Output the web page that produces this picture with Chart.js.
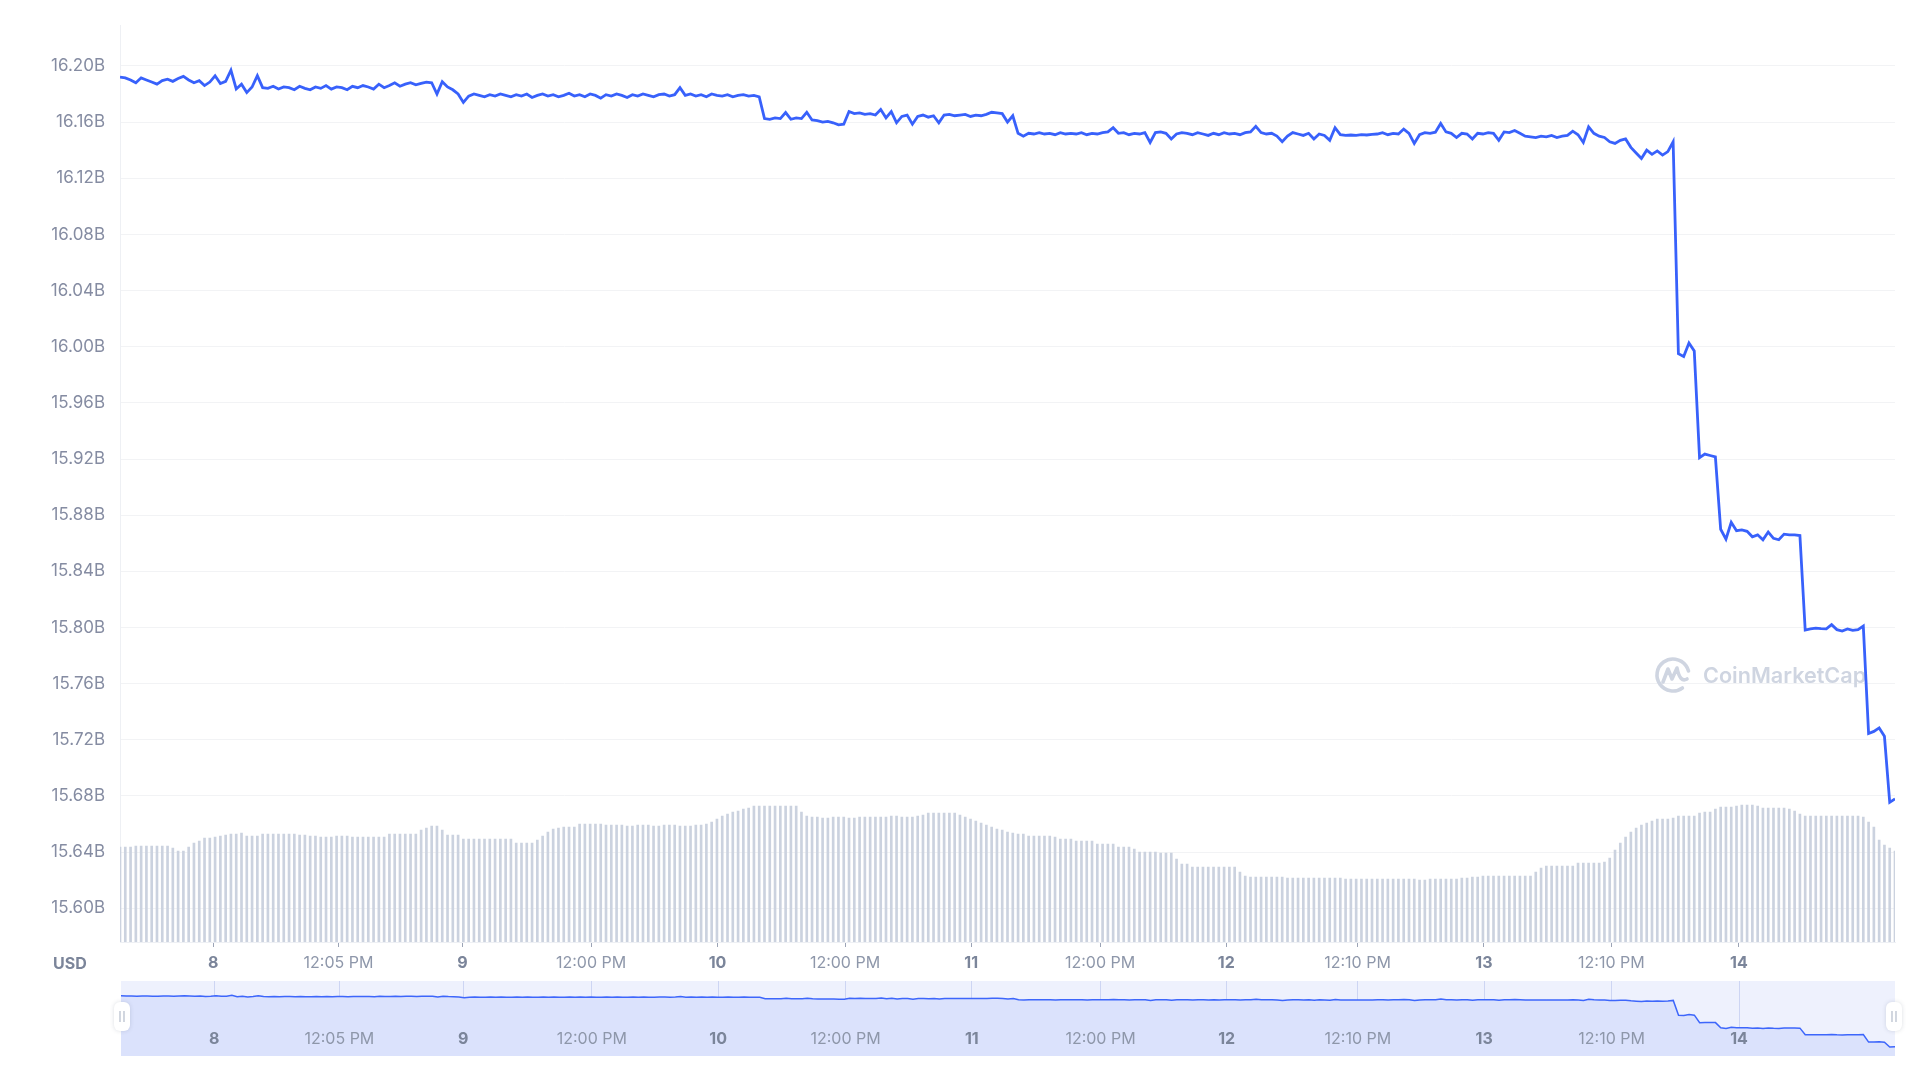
<!DOCTYPE html>
<html>
<head>
<meta charset="utf-8">
<script src="https://cdn.jsdelivr.net/npm/chart.js@4.4.0/dist/chart.umd.min.js"></script>
<style>
    html, body { margin: 0; padding: 0; background: #fff; }
    #wrap { position: relative; width: 1920px; height: 1080px; overflow: hidden; }
    #mainChart { position: absolute; left: 0; top: 0; }
    #navChart { position: absolute; left: 0; top: 981px; }
</style>
</head>
<body>
<div id="wrap">
    <canvas id="mainChart" width="1920" height="985"></canvas>
    <canvas id="navChart" width="1920" height="75"></canvas>
</div>
<script>
// market cap in billions USD, one sample every 30 minutes (7 days)
const marketCap = [
    16.1920, 16.1915, 16.1900, 16.1880, 16.1915, 16.1900, 16.1885, 16.1870, 16.1895, 16.1905, 16.1890, 16.1910,
    16.1925, 16.1900, 16.1880, 16.1895, 16.1860, 16.1885, 16.1930, 16.1875, 16.1890, 16.1970, 16.1836, 16.1870,
    16.1810, 16.1850, 16.1930, 16.1845, 16.1840, 16.1855, 16.1835, 16.1850, 16.1845, 16.1830, 16.1855, 16.1840,
    16.1830, 16.1850, 16.1840, 16.1860, 16.1835, 16.1850, 16.1845, 16.1830, 16.1855, 16.1845, 16.1860, 16.1850,
    16.1835, 16.1870, 16.1845, 16.1860, 16.1880, 16.1855, 16.1870, 16.1880, 16.1865, 16.1875, 16.1885, 16.1880,
    16.1800, 16.1888, 16.1850, 16.1830, 16.1800, 16.1740, 16.1785, 16.1800, 16.1790, 16.1780, 16.1795, 16.1785,
    16.1800, 16.1790, 16.1780, 16.1795, 16.1785, 16.1800, 16.1775, 16.1790, 16.1800, 16.1785, 16.1795, 16.1780,
    16.1790, 16.1805, 16.1785, 16.1795, 16.1780, 16.1800, 16.1790, 16.1770, 16.1795, 16.1785, 16.1800, 16.1790,
    16.1775, 16.1795, 16.1785, 16.1800, 16.1790, 16.1780, 16.1795, 16.1800, 16.1785, 16.1795, 16.1845, 16.1790,
    16.1800, 16.1785, 16.1795, 16.1780, 16.1800, 16.1790, 16.1785, 16.1795, 16.1780, 16.1790, 16.1795, 16.1785,
    16.1790, 16.1780, 16.1625, 16.1620, 16.1630, 16.1625, 16.1668, 16.1620, 16.1630, 16.1625, 16.1670, 16.1615,
    16.1610, 16.1600, 16.1605, 16.1595, 16.1580, 16.1585, 16.1675, 16.1660, 16.1665, 16.1655, 16.1660, 16.1650,
    16.1690, 16.1630, 16.1675, 16.1595, 16.1640, 16.1650, 16.1585, 16.1640, 16.1650, 16.1635, 16.1645, 16.1595,
    16.1650, 16.1655, 16.1645, 16.1650, 16.1655, 16.1640, 16.1650, 16.1645, 16.1655, 16.1670, 16.1665, 16.1660,
    16.1600, 16.1645, 16.1520, 16.1500, 16.1520, 16.1515, 16.1525, 16.1515, 16.1520, 16.1510, 16.1525, 16.1515,
    16.1520, 16.1515, 16.1525, 16.1510, 16.1520, 16.1515, 16.1525, 16.1530, 16.1560, 16.1520, 16.1525, 16.1510,
    16.1520, 16.1515, 16.1525, 16.1455, 16.1525, 16.1530, 16.1520, 16.1480, 16.1515, 16.1525, 16.1520, 16.1510,
    16.1525, 16.1515, 16.1505, 16.1520, 16.1510, 16.1525, 16.1515, 16.1520, 16.1510, 16.1525, 16.1530, 16.1570,
    16.1525, 16.1515, 16.1520, 16.1500, 16.1460, 16.1500, 16.1525, 16.1515, 16.1505, 16.1520, 16.1480, 16.1515,
    16.1505, 16.1470, 16.1560, 16.1510, 16.1505, 16.1508, 16.1505, 16.1510, 16.1508, 16.1512, 16.1515, 16.1525,
    16.1510, 16.1520, 16.1515, 16.1550, 16.1520, 16.1448, 16.1510, 16.1525, 16.1520, 16.1528, 16.1590, 16.1530,
    16.1520, 16.1490, 16.1520, 16.1515, 16.1480, 16.1520, 16.1515, 16.1525, 16.1520, 16.1470, 16.1530, 16.1525,
    16.1540, 16.1520, 16.1500, 16.1495, 16.1490, 16.1500, 16.1495, 16.1505, 16.1490, 16.1500, 16.1505, 16.1535,
    16.1510, 16.1455, 16.1566, 16.1520, 16.1500, 16.1490, 16.1460, 16.1448, 16.1470, 16.1480, 16.1420, 16.1380,
    16.1340, 16.1400, 16.1370, 16.1395, 16.1365, 16.1390, 16.1460, 15.9950, 15.9930, 16.0026, 15.9970, 15.9210,
    15.9235, 15.9225, 15.9215, 15.8700, 15.8630, 15.8750, 15.8690, 15.8695, 15.8685, 15.8646, 15.8660, 15.8625,
    15.8680, 15.8635, 15.8625, 15.8665, 15.8660, 15.8660, 15.8655, 15.7982, 15.7990, 15.7995, 15.7992, 15.7990,
    15.8020, 15.7985, 15.7975, 15.7990, 15.7980, 15.7985, 15.8010, 15.7245, 15.7260, 15.7285, 15.7225, 15.6755,
    15.6780
];

// volume, relative units, same 30 minute samples
const volume = [
    9.5, 9.5, 9.5, 9.6, 9.6, 9.6, 9.6, 9.6, 9.6, 9.6, 9.4, 9.1,
    9.1, 9.5, 9.9, 10.1, 10.4, 10.4, 10.5, 10.6, 10.7, 10.8, 10.8, 10.9,
    10.6, 10.6, 10.6, 10.8, 10.8, 10.8, 10.8, 10.8, 10.8, 10.8, 10.7, 10.7,
    10.6, 10.6, 10.5, 10.5, 10.5, 10.6, 10.6, 10.6, 10.5, 10.5, 10.5, 10.5,
    10.5, 10.5, 10.5, 10.8, 10.8, 10.8, 10.8, 10.8, 10.8, 11.2, 11.4, 11.6,
    11.6, 11.2, 10.7, 10.7, 10.7, 10.3, 10.3, 10.3, 10.3, 10.3, 10.3, 10.3,
    10.3, 10.3, 10.3, 9.9, 9.9, 9.9, 9.9, 10.2, 10.6, 11.0, 11.3, 11.4,
    11.5, 11.5, 11.5, 11.8, 11.8, 11.8, 11.8, 11.8, 11.7, 11.7, 11.7, 11.7,
    11.6, 11.6, 11.7, 11.7, 11.7, 11.6, 11.6, 11.7, 11.7, 11.7, 11.6, 11.6,
    11.6, 11.7, 11.7, 11.8, 12.0, 12.3, 12.6, 12.8, 13.0, 13.1, 13.3, 13.4,
    13.6, 13.6, 13.6, 13.6, 13.6, 13.6, 13.6, 13.6, 13.6, 13.0, 12.6, 12.5,
    12.5, 12.4, 12.4, 12.5, 12.5, 12.5, 12.4, 12.4, 12.5, 12.5, 12.5, 12.5,
    12.5, 12.5, 12.6, 12.6, 12.5, 12.5, 12.5, 12.6, 12.7, 12.9, 12.9, 12.9,
    12.9, 12.9, 12.9, 12.7, 12.5, 12.3, 12.1, 11.9, 11.7, 11.5, 11.3, 11.2,
    11.0, 10.9, 10.8, 10.8, 10.6, 10.6, 10.6, 10.6, 10.6, 10.5, 10.3, 10.3,
    10.3, 10.1, 10.1, 10.1, 10.1, 9.8, 9.8, 9.8, 9.8, 9.5, 9.5, 9.5,
    9.3, 9.0, 9.0, 9.0, 9.0, 8.9, 8.9, 8.9, 8.3, 7.8, 7.8, 7.5,
    7.5, 7.5, 7.5, 7.5, 7.5, 7.5, 7.5, 7.5, 7.0, 6.6, 6.5, 6.5,
    6.5, 6.5, 6.5, 6.5, 6.5, 6.4, 6.4, 6.4, 6.4, 6.4, 6.4, 6.4,
    6.4, 6.4, 6.4, 6.4, 6.3, 6.3, 6.3, 6.3, 6.3, 6.3, 6.3, 6.3,
    6.3, 6.3, 6.3, 6.3, 6.3, 6.3, 6.2, 6.2, 6.3, 6.3, 6.3, 6.3,
    6.3, 6.3, 6.4, 6.4, 6.5, 6.5, 6.6, 6.6, 6.6, 6.6, 6.6, 6.6,
    6.6, 6.6, 6.6, 6.6, 7.0, 7.4, 7.6, 7.6, 7.6, 7.6, 7.6, 7.6,
    7.9, 7.9, 7.9, 7.9, 7.9, 8.0, 8.4, 9.2, 9.9, 10.5, 11.0, 11.4,
    11.7, 11.9, 12.1, 12.3, 12.3, 12.3, 12.4, 12.6, 12.6, 12.6, 12.6, 12.9,
    13.0, 13.0, 13.3, 13.5, 13.5, 13.5, 13.6, 13.7, 13.7, 13.7, 13.6, 13.4,
    13.4, 13.4, 13.4, 13.4, 13.3, 13.1, 12.8, 12.6, 12.6, 12.6, 12.6, 12.6,
    12.6, 12.6, 12.6, 12.6, 12.6, 12.6, 12.5, 12.0, 11.5, 10.2, 9.7, 9.4,
    9.1
];

// hours since the first sample
const sampleHours = marketCap.map((_, i) => i * 0.5);

const tickHours = [8.83, 20.68, 32.41, 44.59, 56.55, 68.62, 80.57, 92.76, 104.71, 117.13, 129.09, 141.16, 153.23];
const tickLabels = ['8', '12:05 PM', '9', '12:00 PM', '10', '12:00 PM', '11', '12:00 PM', '12', '12:10 PM', '13', '12:10 PM', '14'];
const yTicks = [15.60, 15.64, 15.68, 15.72, 15.76, 15.80, 15.84, 15.88, 15.92, 15.96, 16.00, 16.04, 16.08, 16.12, 16.16, 16.20];

const FONT = 'Inter, "Noto Sans", sans-serif';
const isDay = label => label.indexOf(':') < 0;
const tickFont = ctx => ({ family: FONT, size: 16, weight: isDay(tickLabels[ctx.index] || '') ? '700' : '400' });
const tickColor = ctx => isDay(tickLabels[ctx.index] || '') ? '#7b859a' : '#8e97aa';

const linePoints = sampleHours.map((h, i) => ({ x: h, y: marketCap[i] }));
const volumeBars = sampleHours.map((h, i) => ({ x: h, y: volume[i] }));

const watermark = {
    id: 'watermark',
    beforeDatasetsDraw(chart) {
        const ctx = chart.ctx;
        const a = chart.chartArea;
        const cx = a.right - 222, cy = 675, r = 16;
        ctx.save();
        ctx.strokeStyle = '#cfd5e1';
        ctx.lineWidth = 3.6;
        ctx.lineCap = 'round';
        ctx.lineJoin = 'round';
        ctx.beginPath();
        ctx.arc(cx, cy, r, 0.3 * Math.PI, 1.92 * Math.PI);
        ctx.stroke();
        ctx.beginPath();
        ctx.moveTo(cx - 10, cy + 7);
        ctx.lineTo(cx - 5, cy - 6);
        ctx.lineTo(cx - 1, cy + 4);
        ctx.lineTo(cx + 4, cy - 7);
        ctx.quadraticCurveTo(cx + 7, cy + 8, cx + 14, cy + 4);
        ctx.stroke();
        ctx.fillStyle = '#cfd5e1';
        ctx.textBaseline = 'middle';
        ctx.textAlign = 'left';
        let size = 22;
        ctx.font = '600 ' + size + 'px ' + FONT;
        size = size * 163 / ctx.measureText('CoinMarketCap').width;
        ctx.font = '600 ' + size.toFixed(1) + 'px ' + FONT;
        ctx.fillText('CoinMarketCap', cx + 30, cy + 1);
        ctx.restore();
    }
};

const usdLabel = {
    id: 'usdLabel',
    afterDraw(chart) {
        const ctx = chart.ctx;
        ctx.save();
        ctx.font = '700 16px ' + FONT;
        ctx.fillStyle = '#7b859a';
        ctx.textBaseline = 'middle';
        ctx.textAlign = 'left';
        ctx.fillText('USD', 53, chart.chartArea.bottom + 22);
        ctx.restore();
    }
};

const mainChart = new Chart(document.getElementById('mainChart'), {
    type: 'line',
    data: {
        datasets: [{
            type: 'line',
            label: 'Market Cap',
            data: linePoints,
            yAxisID: 'y',
            borderColor: '#3861fb',
            borderWidth: 2.8,
            pointRadius: 0,
            tension: 0,
            order: 0
        }, {
            type: 'bar',
            label: 'Volume',
            data: volumeBars,
            yAxisID: 'yv',
            backgroundColor: '#cbd2df',
            barThickness: 2,
            order: 1
        }]
    },
    options: {
        responsive: false,
        animation: false,
        devicePixelRatio: 1,
        layout: { padding: { top: 24, right: 25, left: 0, bottom: 0 } },
        plugins: { legend: { display: false }, tooltip: { enabled: false } },
        scales: {
            x: {
                type: 'linear',
                min: 0,
                max: 168,
                offset: false,
                afterBuildTicks: s => { s.ticks = tickHours.map(v => ({ value: v })); },
                afterFit: s => { s.height = 43; },
                grid: { offset: false, drawOnChartArea: false, drawTicks: true, tickLength: 5, tickColor: '#9ca4b6' },
                border: { color: '#eef0f4' },
                ticks: {
                    autoSkip: false,
                    maxRotation: 0,
                    padding: 7,
                    callback: (v, i) => tickLabels[i],
                    font: tickFont,
                    color: tickColor
                }
            },
            y: {
                min: 15.576,
                max: 16.229,
                afterBuildTicks: s => { s.ticks = yTicks.map(v => ({ value: v })); },
                afterFit: s => { s.width = 120; },
                grid: { color: '#f2f3f5', drawTicks: false },
                border: { color: '#eef0f4' },
                ticks: {
                    padding: 15,
                    callback: v => v.toFixed(2) + 'B',
                    font: { family: FONT, size: 17 },
                    color: '#858ca2'
                }
            },
            yv: { display: false, min: 0, max: 91.8 }
        }
    },
    plugins: [watermark, usdLabel]
});

const navBackground = {
    id: 'navBackground',
    beforeDraw(chart) {
        const a = chart.chartArea;
        chart.ctx.save();
        chart.ctx.fillStyle = '#eef1fd';
        chart.ctx.fillRect(a.left, a.top, a.right - a.left, a.bottom - a.top);
        chart.ctx.restore();
    }
};

const navLabels = {
    id: 'navLabels',
    afterDatasetsDraw(chart) {
        const ctx = chart.ctx;
        const x = chart.scales.x;
        ctx.save();
        ctx.textAlign = 'center';
        ctx.textBaseline = 'middle';
        tickHours.forEach((h, i) => {
            const day = isDay(tickLabels[i]);
            ctx.font = (day ? '700 ' : '400 ') + '16px ' + FONT;
            ctx.fillStyle = day ? '#7b859a' : '#8e97aa';
            ctx.fillText(tickLabels[i], x.getPixelForValue(h), chart.chartArea.bottom - 17);
        });
        ctx.restore();
    }
};

const navHandles = {
    id: 'navHandles',
    afterDraw(chart) {
        const ctx = chart.ctx;
        const a = chart.chartArea;
        [a.left + 1, a.right - 1].forEach(cx => {
            const w = 16, h = 29, top = 21;
            ctx.save();
            ctx.shadowColor = 'rgba(60, 70, 100, 0.18)';
            ctx.shadowBlur = 4;
            ctx.fillStyle = '#ffffff';
            ctx.beginPath();
            ctx.roundRect(cx - w / 2, top, w, h, 6);
            ctx.fill();
            ctx.shadowColor = 'transparent';
            ctx.strokeStyle = '#b4bccb';
            ctx.lineWidth = 1.2;
            ctx.beginPath();
            ctx.moveTo(cx - 2, top + 9); ctx.lineTo(cx - 2, top + 20);
            ctx.moveTo(cx + 2, top + 9); ctx.lineTo(cx + 2, top + 20);
            ctx.stroke();
            ctx.restore();
        });
    }
};

const navChart = new Chart(document.getElementById('navChart'), {
    type: 'line',
    data: {
        datasets: [{
            label: 'Market Cap',
            data: linePoints,
            borderColor: '#3d66fb',
            borderWidth: 1.5,
            pointRadius: 0,
            tension: 0,
            fill: 'start',
            backgroundColor: '#dbe2fc'
        }]
    },
    options: {
        responsive: false,
        animation: false,
        devicePixelRatio: 1,
        layout: { padding: { top: 0, right: 25, left: 121, bottom: 0 } },
        plugins: { legend: { display: false }, tooltip: { enabled: false } },
        scales: {
            x: {
                type: 'linear',
                min: 0,
                max: 168,
                afterBuildTicks: s => { s.ticks = tickHours.map(v => ({ value: v })); },
                afterFit: s => { s.height = 0; },
                grid: { color: '#cdd5f3', drawTicks: false },
                border: { display: false },
                ticks: { display: false }
            },
            y: { display: false, min: 15.584, max: 16.342 }
        }
    },
    plugins: [navBackground, navLabels, navHandles]
});
</script>
</body>
</html>
